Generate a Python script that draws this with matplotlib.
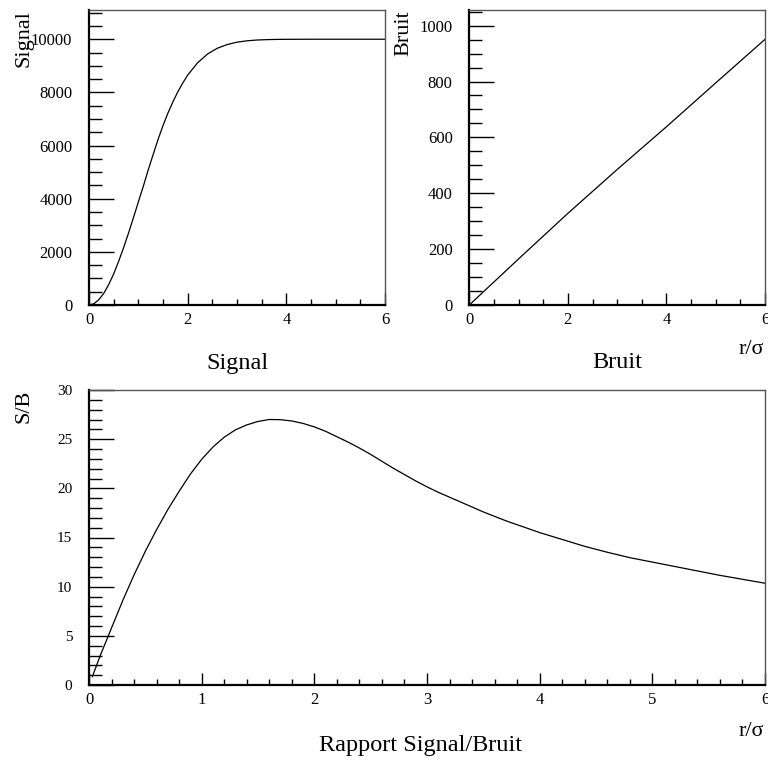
import matplotlib
matplotlib.use('Agg')
import matplotlib.pyplot as plt
from matplotlib.ticker import MultipleLocator

plt.rcParams['font.family'] = ['Liberation Serif', 'DejaVu Serif']

# values
r_sig = [0, 0.1, 0.2, 0.3, 0.4, 0.5, 0.6, 0.7, 0.8, 0.9, 1.0, 1.1, 1.2, 1.3, 1.4, 1.5,
         1.6, 1.7, 1.8, 1.9, 2.0, 2.2, 2.4, 2.6, 2.8, 3.0, 3.2, 3.4, 3.6, 3.8, 4.0,
         4.5, 5.0, 5.5, 6.0]
signal = [0, 50, 200, 440, 770, 1170, 1640, 2150, 2700, 3280, 3880, 4460, 5080, 5660,
          6230, 6750, 7220, 7640, 8020, 8350, 8650, 9110, 9440, 9660, 9800, 9890, 9940,
          9970, 9985, 9993, 9997, 10000, 10000, 10000, 10000]

r_bruit = [0, 1, 2, 3, 4, 5, 6]
bruit = [0, 165, 328, 485, 638, 795, 951]

r_sb = [0.03, 0.1, 0.2, 0.3, 0.4, 0.5, 0.6, 0.7, 0.8, 0.9, 1.0, 1.1, 1.2, 1.3, 1.4, 1.5,
        1.6, 1.7, 1.8, 1.9, 2.0, 2.1, 2.2, 2.3, 2.4, 2.5, 2.6, 2.7, 2.8, 2.9, 3.0, 3.1,
        3.2, 3.3, 3.4, 3.5, 3.6, 3.7, 3.8, 3.9, 4.0, 4.2, 4.4, 4.6, 4.8, 5.0, 5.2, 5.4,
        5.6, 5.8, 6.0]
sb = [0.85, 3.0, 5.8, 8.6, 11.2, 13.6, 15.8, 17.85, 19.7, 21.45, 22.95, 24.2, 25.2, 25.95,
      26.45, 26.8, 27.0, 26.98, 26.85, 26.6, 26.25, 25.8, 25.25, 24.7, 24.1, 23.45, 22.75,
      22.05, 21.4, 20.75, 20.15, 19.6, 19.1, 18.6, 18.1, 17.6, 17.15, 16.7, 16.3, 15.9,
      15.5, 14.8, 14.1, 13.5, 12.95, 12.5, 12.05, 11.6, 11.15, 10.75, 10.35]

W, H = 768, 763
fig = plt.figure(figsize=(W / 100, H / 100), dpi=100)


def style(ax, xmaj, xmin, ymaj, ymin, ylab_size):
    ax.xaxis.set_major_locator(MultipleLocator(xmaj))
    ax.xaxis.set_minor_locator(MultipleLocator(xmin))
    ax.yaxis.set_major_locator(MultipleLocator(ymaj))
    ax.yaxis.set_minor_locator(MultipleLocator(ymin))
    ax.tick_params(axis='x', which='major', direction='in', length=8.6, width=1,
                   pad=5, labelsize=12, top=False)
    ax.tick_params(axis='x', which='minor', direction='in', length=4.5, width=1, top=False)
    ax.tick_params(axis='y', which='major', direction='in', length=18, width=1,
                   pad=12, labelsize=ylab_size, right=False)
    ax.tick_params(axis='y', which='minor', direction='in', length=9, width=1, right=False)
    for s in ['left', 'bottom']:
        ax.spines[s].set_linewidth(1.6)
    for s in ['top', 'right']:
        ax.spines[s].set_linewidth(1.0)
        ax.spines[s].set_color('#555555')


# Signal
ax1 = fig.add_axes([89 / W, 1 - 305 / H, 296 / W, 295 / H])
ax1.plot(r_sig, signal, color='black', lw=0.9)
ax1.set_xlim(0, 6)
ax1.set_ylim(0, 11100)
style(ax1, 2, 0.5, 2000, 500, 12)
ax1.text(-0.219, 1.0, 'Signal', rotation=90, ha='center', va='top',
         fontsize=16, transform=ax1.transAxes)

# Bruit
ax2 = fig.add_axes([469.3 / W, 1 - 305 / H, 295.7 / W, 295 / H])
ax2.plot(r_bruit, bruit, color='black', lw=0.9)
ax2.set_xlim(0, 6)
ax2.set_ylim(0, 1056)
style(ax2, 2, 0.5, 200, 50, 12)
ax2.text(-0.22, 1.0, 'Bruit', rotation=90, ha='center', va='top',
         fontsize=16, transform=ax2.transAxes)

# S/B
ax3 = fig.add_axes([89 / W, 1 - 685 / H, 676 / W, 295 / H])
ax3.plot(r_sb, sb, color='black', lw=0.9)
ax3.set_xlim(0, 6)
ax3.set_ylim(0, 30)
style(ax3, 1, 0.2, 5, 1, 11)
ax3.text(-0.096, 1.0, 'S/B', rotation=90, ha='center', va='top',
         fontsize=16, transform=ax3.transAxes)

# axis names and titles
fig.text(764 / W, 1 - 350 / H, 'r/σ', ha='right', va='center', fontsize=16)
fig.text(764 / W, 1 - 732 / H, 'r/σ', ha='right', va='center', fontsize=16)
fig.text(237 / W, 1 - 363 / H, 'Signal', ha='center', va='center', fontsize=17.5)
fig.text(617 / W, 1 - 363 / H, 'Bruit', ha='center', va='center', fontsize=17.5)
fig.text(421 / W, 1 - 746 / H, 'Rapport Signal/Bruit', ha='center', va='center', fontsize=17.5)

fig.savefig('out.png', dpi=100)
